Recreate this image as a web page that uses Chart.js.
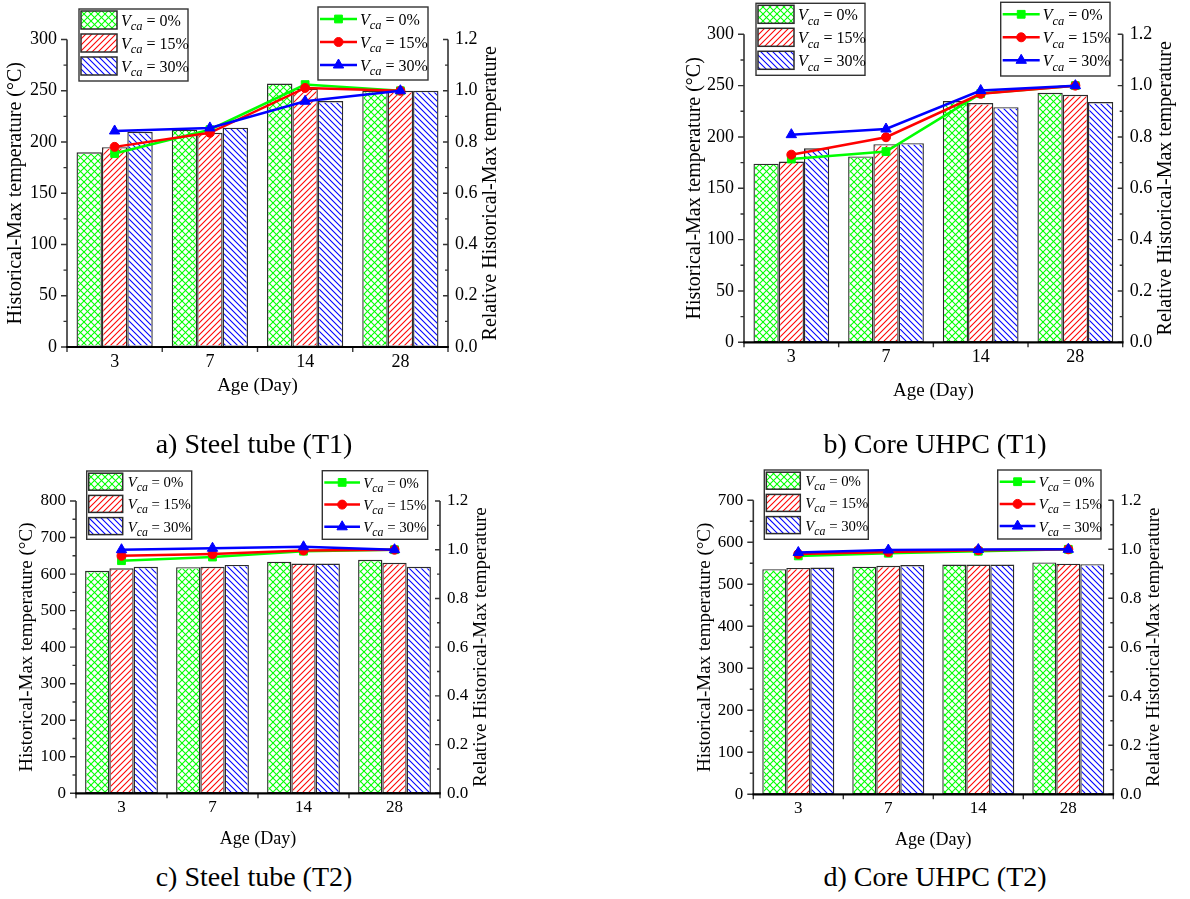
<!DOCTYPE html>
<html>
<head>
<meta charset="utf-8">
<title>Historical-Max temperature vs. age</title>
<script src="https://cdn.jsdelivr.net/npm/chart.js@4.4.1/dist/chart.umd.min.js"></script>
<style>
  html, body { margin: 0; padding: 0; background: #fff; }
  #page { position: relative; width: 1190px; height: 899px; overflow: hidden; background: #fff; }
  #page canvas { position: absolute; }
  .cap {
    position: absolute;
    font-family: 'Liberation Serif', 'Times New Roman', serif;
    font-size: 28px;
    line-height: 28px;
    color: #000;
    white-space: nowrap;
    transform: translateX(-50%);
  }
</style>
</head>
<body>
<div id="page">
  <canvas id="panelA"></canvas>
  <canvas id="panelB"></canvas>
  <canvas id="panelC"></canvas>
  <canvas id="panelD"></canvas>
  <div class="cap" style="left:254px; top:429.5px;">a) Steel tube (T1)</div>
  <div class="cap" style="left:935px; top:429.5px;">b) Core UHPC (T1)</div>
  <div class="cap" style="left:254px; top:862.5px;">c) Steel tube (T2)</div>
  <div class="cap" style="left:935px; top:862.5px;">d) Core UHPC (T2)</div>
</div>
<script>
// ---- data ---------------------------------------------------------------
const ages = ['3', '7', '14', '28'];
const caContents = ['0%', '15%', '30%'];

// a) Steel tube (T1): historical-max temperature (°C) and relative value
const steelT1Max0  = [190, 212, 257, 250];
const steelT1Max15 = [195, 209, 252, 250];
const steelT1Max30 = [210, 214, 240, 250];
const steelT1Rel0  = [0.755, 0.848, 1.024, 1.0];
const steelT1Rel15 = [0.781, 0.836, 1.011, 1.0];
const steelT1Rel30 = [0.843, 0.855, 0.959, 1.0];

// b) Core UHPC (T1)
const coreT1Max0  = [174, 181, 235, 243];
const coreT1Max15 = [176, 193, 233, 241];
const coreT1Max30 = [189, 194, 229, 234];
const coreT1Rel0  = [0.714, 0.743, 0.969, 1.0];
const coreT1Rel15 = [0.731, 0.799, 0.968, 1.0];
const coreT1Rel30 = [0.809, 0.831, 0.981, 1.0];

// c) Steel tube (T2)
const steelT2Max0  = [609, 619, 634, 639];
const steelT2Max15 = [616, 620, 629, 631];
const steelT2Max30 = [620, 625, 629, 620];
const steelT2Rel0  = [0.955, 0.970, 0.994, 1.0];
const steelT2Rel15 = [0.975, 0.982, 0.997, 1.0];
const steelT2Rel30 = [1.0, 1.006, 1.012, 1.0];

// d) Core UHPC (T2)
const coreT2Max0  = [536, 542, 547, 552];
const coreT2Max15 = [539, 544, 547, 549];
const coreT2Max30 = [540, 546, 547, 548];
const coreT2Rel0  = [0.973, 0.984, 0.992, 1.0];
const coreT2Rel15 = [0.981, 0.989, 0.996, 1.0];
const coreT2Rel30 = [0.987, 0.997, 0.999, 1.0];

// axis ranges: [max, major step]
const tempAxisT1 = [300, 50];
const tempAxisT2Steel = [800, 100];
const tempAxisT2Core = [700, 100];
const relAxis = [1.2, 0.2];

// axis titles
const tempTitle = 'Historical-Max temperature (°C)';
const relTitle = 'Relative Historical-Max temperature';
const ageTitle = 'Age (Day)';

// ---- styling -------------------------------------------------------------
const SERIF = "'Liberation Serif', 'Times New Roman', serif";
const seriesColors = ['rgb(0,255,0)', 'rgb(255,0,0)', 'rgb(0,0,255)'];
const hatchKinds = ['cross', 'fwd', 'back'];
const hatchSizes = [7, 6, 6];
const markerStyles = ['rect', 'circle', 'triangle'];
const markerRadii = [5.5, 4.5, 6];
const barEdge = '#2b2b2b';
const barEdgeWidth = 1.4;
const axisGrey = '#333333';

// diagonal hatching inside a rectangle, built from thin filled strips
function hatchRect(ctx, k, l, t, r, b) {
  const kind = hatchKinds[k], s = hatchSizes[k];
  const hw = 0.75; // half strip width measured horizontally
  ctx.save();
  ctx.beginPath();
  ctx.rect(l, t, r - l, b - t);
  ctx.clip();
  ctx.fillStyle = seriesColors[k];
  if (kind === 'cross' || kind === 'fwd') {
    const c0 = Math.floor((l + t) / s) * s - s;
    for (let c = c0; c <= r + b + s; c += s) {
      ctx.beginPath();
      ctx.moveTo(c - b - hw, b); ctx.lineTo(c - t - hw, t);
      ctx.lineTo(c - t + hw, t); ctx.lineTo(c - b + hw, b);
      ctx.closePath();
      ctx.fill();
    }
  }
  if (kind === 'cross' || kind === 'back') {
    const d0 = Math.floor((l - b) / s) * s - s;
    for (let d = d0; d <= r - t + s; d += s) {
      ctx.beginPath();
      ctx.moveTo(d + t - hw, t); ctx.lineTo(d + b - hw, b);
      ctx.lineTo(d + b + hw, b); ctx.lineTo(d + t + hw, t);
      ctx.closePath();
      ctx.fill();
    }
  }
  ctx.restore();
}

function drawMarker(ctx, style, r, x, y) {
  if (Chart.helpers && Chart.helpers.drawPoint) {
    Chart.helpers.drawPoint(ctx, { pointStyle: style, radius: r, rotation: 0, borderWidth: 1 }, x, y);
    return;
  }
  ctx.beginPath();
  if (style === 'circle') ctx.arc(x, y, r, 0, Math.PI * 2);
  else if (style === 'rect') { const h = r * Math.SQRT1_2; ctx.rect(x - h, y - h, 2 * h, 2 * h); }
  else { ctx.moveTo(x, y - r); ctx.lineTo(x + r * 0.866, y + r / 2); ctx.lineTo(x - r * 0.866, y + r / 2); ctx.closePath(); }
  ctx.fill(); ctx.stroke();
}

// "V_ca = xx%" with italic V and italic subscript
function drawVcaLabel(ctx, x, yMid, pct, fs, subFs) {
  const base = yMid + fs * 0.37;
  ctx.fillStyle = '#000';
  ctx.textAlign = 'left';
  ctx.textBaseline = 'alphabetic';
  ctx.font = `italic ${fs}px ${SERIF}`;
  ctx.fillText('V', x, base);
  x += ctx.measureText('V').width;
  ctx.font = `italic ${subFs}px ${SERIF}`;
  ctx.fillText('ca', x, base + fs * 0.27);
  x += ctx.measureText('ca').width;
  ctx.font = `${fs}px ${SERIF}`;
  ctx.fillText(' = ' + pct, x, base);
}

function decorPlugin(p) {
  return {
    id: 'panelDecor',
    // hatch each bar right after its dataset is drawn (lines are drawn later, on top)
    afterDatasetDraw(chart, args) {
      const ds = chart.data.datasets[args.index];
      if (ds.type !== 'bar') return;
      const ctx = chart.ctx;
      const inset = barEdgeWidth;
      args.meta.data.forEach(el => {
        const { x, y, base, width } = el.getProps(['x', 'y', 'base', 'width'], true);
        const top = Math.min(y, base), bottom = Math.max(y, base);
        hatchRect(ctx, ds.hatchIndex, x - width / 2 + inset, top + inset, x + width / 2 - inset, bottom - inset);
      });
    },
    afterDraw(chart) {
      const ctx = chart.ctx;
      const a = chart.chartArea;
      const sx = chart.scales.x, sy = chart.scales.y, sy2 = chart.scales.y2;
      const ox = p.ox, oy = p.oy;
      ctx.save();

      // axis lines
      ctx.lineCap = 'butt';
      ctx.strokeStyle = axisGrey;
      ctx.lineWidth = 1.6;
      ctx.beginPath();
      ctx.moveTo(a.left, a.top); ctx.lineTo(a.left, a.bottom);
      ctx.moveTo(a.right, a.top); ctx.lineTo(a.right, a.bottom);
      ctx.stroke();

      // left axis ticks (outward, minor between majors)
      const yMax = p.tempAxis[0], yStep = p.tempAxis[1];
      ctx.lineWidth = 1.4;
      ctx.beginPath();
      for (let i = 0; i * yStep / 2 <= yMax + 1e-9; i++) {
        const py = sy.getPixelForValue(i * yStep / 2);
        const len = i % 2 === 0 ? 6 : 3.5;
        ctx.moveTo(a.left - len, py); ctx.lineTo(a.left, py);
      }
      // right axis ticks (inward)
      for (let i = 0; i * relAxis[1] / 2 <= relAxis[0] + 1e-9; i++) {
        const py = sy2.getPixelForValue(i * relAxis[1] / 2);
        const len = i % 2 === 0 ? 5 : 3;
        ctx.moveTo(a.right - len, py); ctx.lineTo(a.right, py);
      }
      // category boundary ticks on the x axis
      const centers = ages.map((_, i) => sx.getPixelForValue(i));
      const bounds = [a.left];
      for (let i = 0; i < centers.length - 1; i++) bounds.push((centers[i] + centers[i + 1]) / 2);
      bounds.push(a.right);
      bounds.forEach(bx => { ctx.moveTo(bx, a.bottom); ctx.lineTo(bx, a.bottom + 5); });
      ctx.stroke();

      // bottom axis
      ctx.strokeStyle = '#000';
      ctx.lineWidth = 2.2;
      ctx.beginPath();
      ctx.moveTo(a.left - 0.8, a.bottom); ctx.lineTo(a.right + 0.8, a.bottom);
      ctx.stroke();

      // axis titles
      const cy = (a.top + a.bottom) / 2;
      ctx.fillStyle = '#000';
      ctx.textAlign = 'center';
      ctx.textBaseline = 'alphabetic';
      ctx.font = `${p.titleFs}px ${SERIF}`;
      [[p.leftTitleX, tempTitle], [p.rightTitleX, relTitle]].forEach(([tx, txt]) => {
        ctx.save();
        ctx.translate(tx - ox + p.titleFs * 0.23, cy);
        ctx.rotate(-Math.PI / 2);
        ctx.fillText(txt, 0, 0);
        ctx.restore();
      });
      ctx.font = `${p.xTitleFs}px ${SERIF}`;
      ctx.fillText(ageTitle, (a.left + a.right) / 2, p.xTitleY - oy + p.xTitleFs * 0.235);

      // bar legend
      const bb = p.barBox;
      ctx.strokeStyle = axisGrey;
      ctx.lineWidth = 1.4;
      ctx.strokeRect(bb.x - ox, bb.y - oy, bb.w, bb.h);
      for (let i = 0; i < 3; i++) {
        const ry = bb.y - oy + p.rowTop + i * p.rowGap;
        const x0 = bb.x - ox + 2, y0 = ry - p.swH / 2;
        ctx.fillStyle = '#ffffff';
        ctx.fillRect(x0, y0, p.swW, p.swH);
        hatchRect(ctx, i, x0, y0, x0 + p.swW, y0 + p.swH);
        ctx.strokeStyle = barEdge;
        ctx.lineWidth = 1.5;
        ctx.strokeRect(x0, y0, p.swW, p.swH);
        drawVcaLabel(ctx, bb.x - ox + p.textOff, ry, caContents[i], p.legFs, p.legSubFs);
      }

      // line legend
      const lb = p.lineBox;
      ctx.strokeStyle = axisGrey;
      ctx.lineWidth = 1.4;
      ctx.strokeRect(lb.x - ox, lb.y - oy, lb.w, lb.h);
      for (let i = 0; i < 3; i++) {
        const ry = lb.y - oy + p.rowTop + 1 + i * p.rowGap;
        const x0 = lb.x - ox + 2, x1 = lb.x - ox + p.lineLen;
        ctx.strokeStyle = seriesColors[i];
        ctx.fillStyle = seriesColors[i];
        ctx.lineWidth = 2.5;
        ctx.beginPath(); ctx.moveTo(x0, ry); ctx.lineTo(x1, ry); ctx.stroke();
        ctx.lineWidth = 1;
        drawMarker(ctx, markerStyles[i], markerRadii[i], (x0 + x1) / 2, ry);
        drawVcaLabel(ctx, lb.x - ox + p.textOff, ry, caContents[i], p.legFs, p.legSubFs);
      }
      ctx.restore();
    }
  };
}

// ---- panels (page coordinates) -----------------------------------------
const topPanelStyle = { tickFs: 18, titleFs: 20, xTitleFs: 19, legFs: 16, legSubFs: 12.5,
  rowTop: 11, rowGap: 23, swW: 36, swH: 18, lineLen: 39, textOff: 42 };
const bottomPanelStyle = { tickFs: 17, titleFs: 19, xTitleFs: 18, legFs: 14.8, legSubFs: 11.8,
  rowTop: 10.7, rowGap: 22.2, swW: 34, swH: 17, lineLen: 37.7, textOff: 41 };

const panels = [
  Object.assign({}, topPanelStyle, {
    id: 'panelA', ox: 0, oy: 0, w: 595, h: 425,
    area: { l: 67, r: 448, t: 39.5, b: 347 },
    tempAxis: tempAxisT1,
    max: [steelT1Max0, steelT1Max15, steelT1Max30],
    rel: [steelT1Rel0, steelT1Rel15, steelT1Rel30],
    leftTitleX: 16.5, rightTitleX: 491, xTitleY: 387,
    barBox: { x: 79, y: 9, w: 109, h: 72 },
    lineBox: { x: 318, y: 7, w: 110, h: 73 }
  }),
  Object.assign({}, topPanelStyle, {
    id: 'panelB', ox: 595, oy: 0, w: 595, h: 425,
    area: { l: 744, r: 1122.7, t: 34.3, b: 342.3 },
    tempAxis: tempAxisT1,
    max: [coreT1Max0, coreT1Max15, coreT1Max30],
    rel: [coreT1Rel0, coreT1Rel15, coreT1Rel30],
    leftTitleX: 695, rightTitleX: 1166.5, xTitleY: 392,
    barBox: { x: 756, y: 3.3, w: 109, h: 72 },
    lineBox: { x: 1000.7, y: 2.3, w: 109.3, h: 73.7 }
  }),
  Object.assign({}, bottomPanelStyle, {
    id: 'panelC', ox: 0, oy: 435, w: 595, h: 425,
    area: { l: 76, r: 440, t: 501, b: 793.3 },
    tempAxis: tempAxisT2Steel,
    max: [steelT2Max0, steelT2Max15, steelT2Max30],
    rel: [steelT2Rel0, steelT2Rel15, steelT2Rel30],
    leftTitleX: 27.5, rightTitleX: 482, xTitleY: 840,
    barBox: { x: 86.7, y: 471, w: 105, h: 68.3 },
    lineBox: { x: 322.3, y: 470.7, w: 105.4, h: 68.6 }
  }),
  Object.assign({}, bottomPanelStyle, {
    id: 'panelD', ox: 595, oy: 435, w: 595, h: 425,
    area: { l: 753.3, r: 1113.3, t: 500.3, b: 794.3 },
    tempAxis: tempAxisT2Core,
    max: [coreT2Max0, coreT2Max15, coreT2Max30],
    rel: [coreT2Rel0, coreT2Rel15, coreT2Rel30],
    leftTitleX: 705.5, rightTitleX: 1154.5, xTitleY: 841,
    barBox: { x: 764.3, y: 470, w: 104, h: 69.3 },
    lineBox: { x: 997.7, y: 470, w: 103.3, h: 69 }
  })
];

const Y_W = 40, X_H = 30;

function buildPanel(p) {
  const canvas = document.getElementById(p.id);
  canvas.width = p.w; canvas.height = p.h;
  canvas.style.left = p.ox + 'px';
  canvas.style.top = p.oy + 'px';
  // software-rasterised context for steady rendering of the fine hatching
  const ctx = canvas.getContext('2d', { willReadFrequently: true });

  const datasets = [];
  p.rel.forEach((vals, i) => datasets.push({
    type: 'line',
    label: 'Vca = ' + caContents[i],
    data: vals,
    yAxisID: 'y2',
    borderColor: seriesColors[i],
    backgroundColor: seriesColors[i],
    borderWidth: 2.5,
    pointStyle: markerStyles[i],
    pointRadius: markerRadii[i],
    pointBorderWidth: 1,
    pointBorderColor: seriesColors[i],
    pointBackgroundColor: seriesColors[i],
    tension: 0,
    clip: false,
    order: 3 - i
  }));
  p.max.forEach((vals, i) => datasets.push({
    type: 'bar',
    label: 'Vca = ' + caContents[i],
    data: vals,
    yAxisID: 'y',
    hatchIndex: i,
    backgroundColor: '#ffffff',
    borderColor: barEdge,
    borderWidth: barEdgeWidth,
    borderSkipped: false,
    categoryPercentage: 0.8,
    barPercentage: 1.0,
    order: 10
  }));

  const tickFont = { family: SERIF, size: p.tickFs };
  new Chart(ctx, {
    type: 'bar',
    data: { labels: ages, datasets },
    options: {
      responsive: false,
      animation: false,
      devicePixelRatio: 1,
      events: [],
      layout: {
        autoPadding: false,
        padding: {
          left: p.area.l - p.ox - Y_W,
          right: p.ox + p.w - p.area.r - Y_W,
          top: p.area.t - p.oy,
          bottom: p.oy + p.h - p.area.b - X_H
        }
      },
      plugins: { legend: { display: false }, tooltip: { enabled: false }, title: { display: false } },
      scales: {
        x: {
          type: 'category',
          offset: true,
          grid: { display: false, drawTicks: false },
          border: { display: false },
          ticks: { color: '#000', font: tickFont, padding: 4, maxRotation: 0, autoSkip: false },
          afterFit(s) { s.height = X_H; }
        },
        y: {
          position: 'left',
          min: 0,
          max: p.tempAxis[0],
          grid: { display: false, drawTicks: false },
          border: { display: false },
          ticks: { stepSize: p.tempAxis[1], color: '#000', font: tickFont, padding: 10 },
          afterFit(s) { s.width = Y_W; }
        },
        y2: {
          position: 'right',
          min: 0,
          max: relAxis[0],
          grid: { display: false, drawTicks: false, drawOnChartArea: false },
          border: { display: false },
          ticks: { stepSize: relAxis[1], color: '#000', font: tickFont, padding: 7,
                   callback: v => Number(v).toFixed(1) },
          afterFit(s) { s.width = Y_W; }
        }
      }
    },
    plugins: [decorPlugin(p)]
  });
}

panels.forEach(buildPanel);
</script>
</body>
</html>
